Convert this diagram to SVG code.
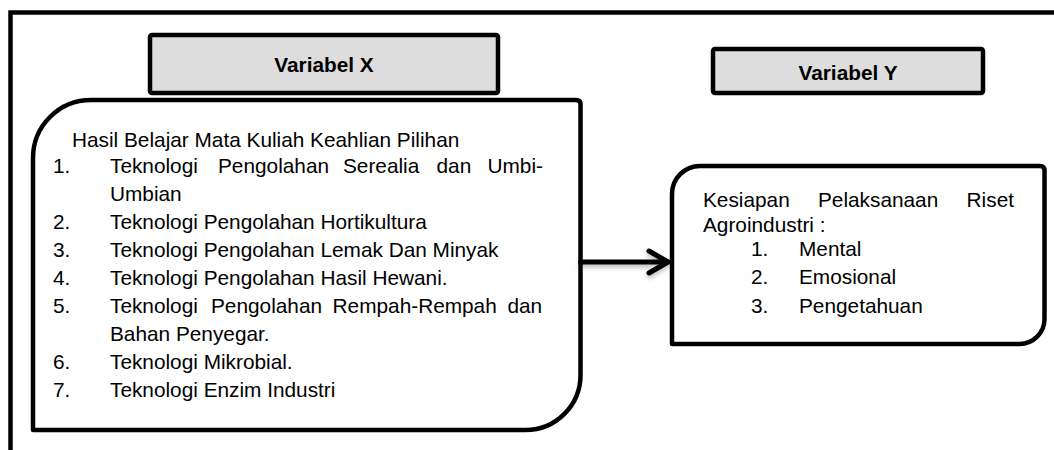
<svg xmlns="http://www.w3.org/2000/svg" width="1054" height="450" viewBox="0 0 1054 450">
  <style>
    .t { font-family: "Liberation Sans", Arial, sans-serif; font-size: 20.8px; fill: #000; }
    .b { font-weight: bold; text-anchor: middle; }
    .hdr { fill: #dddddd; stroke: #000; stroke-width: 4.5; }
    .box { fill: #fff; stroke: #000; stroke-width: 4.5; stroke-linejoin: round; }
    .conn { fill: none; stroke: #000; stroke-width: 5; stroke-linecap: round; stroke-linejoin: round; }
  </style>
  <defs>
    <filter id="shadow" filterUnits="userSpaceOnUse" x="560" y="230" width="130" height="60">
      <feDropShadow dx="0" dy="3" stdDeviation="2" flood-color="#000" flood-opacity="0.25"/>
    </filter>
    <marker id="arrow" markerUnits="userSpaceOnUse" markerWidth="30" markerHeight="30" viewBox="-24 -15 30 30" refX="0" refY="0" orient="auto">
      <path d="M -19,-11 L 0,0 L -19,11" fill="none" stroke="#000" stroke-width="5" stroke-linecap="round" stroke-linejoin="round"/>
    </marker>
  </defs>
  <rect width="1054" height="450" fill="#fff"/>
  <g id="frame">
    <rect x="10.5" y="12.5" width="1100" height="500" fill="none" stroke="#000" stroke-width="4.5"/>
  </g>
  <g id="variabel-x">
    <rect class="hdr" x="150" y="35" width="348" height="58" rx="2"/>
    <text class="t b" x="324" y="72">Variabel X</text>
  </g>
  <g id="variabel-y">
    <rect class="hdr" x="713" y="49" width="270" height="44" rx="2"/>
    <text class="t b" x="848" y="80">Variabel Y</text>
  </g>
  <g id="node-x">
    <path class="box" d="M 33,430 L 33,158 A 58 58 0 0 1 91,100 L 576,100 Q 580.5,100 580.5,104 L 580.5,375 A 55 55 0 0 1 525.5,430 Z"/>
    <text class="t" x="72" y="147">Hasil Belajar Mata Kuliah Keahlian Pilihan</text>
    <text class="t" x="53" y="173">1.</text>
    <text class="t" y="173"><tspan x="110">Teknologi</tspan><tspan x="218">Pengolahan</tspan><tspan x="343">Serealia</tspan><tspan x="436.5">dan</tspan><tspan x="487.5">Umbi-</tspan></text>
    <text class="t" x="110" y="201">Umbian</text>
    <text class="t" x="53" y="229">2.</text>
    <text class="t" x="110" y="229">Teknologi Pengolahan Hortikultura</text>
    <text class="t" x="53" y="257">3.</text>
    <text class="t" x="110" y="257">Teknologi Pengolahan Lemak Dan Minyak</text>
    <text class="t" x="53" y="285">4.</text>
    <text class="t" x="110" y="285">Teknologi Pengolahan Hasil Hewani.</text>
    <text class="t" x="53" y="313">5.</text>
    <text class="t" y="313"><tspan x="110">Teknologi</tspan><tspan x="211">Pengolahan</tspan><tspan x="332.6">Rempah-Rempah</tspan><tspan x="507.4">dan</tspan></text>
    <text class="t" x="110" y="341">Bahan Penyegar.</text>
    <text class="t" x="53" y="369">6.</text>
    <text class="t" x="110" y="369">Teknologi Mikrobial.</text>
    <text class="t" x="53" y="397">7.</text>
    <text class="t" x="110" y="397">Teknologi Enzim Industri</text>
  </g>
  <g id="node-y">
    <path class="box" d="M 672,344 L 672,194 A 28 28 0 0 1 700,166 L 1040,166 Q 1044.5,166 1044.5,170.5 L 1044.5,319 A 25 25 0 0 1 1019.5,344 Z"/>
    <text class="t" y="207"><tspan x="703">Kesiapan</tspan><tspan x="818">Pelaksanaan</tspan><tspan x="966.6">Riset</tspan></text>
    <text class="t" x="703" y="232">Agroindustri :</text>
    <text class="t" x="751" y="256">1.</text>
    <text class="t" x="799" y="256">Mental</text>
    <text class="t" x="751" y="284">2.</text>
    <text class="t" x="799" y="284">Emosional</text>
    <text class="t" x="751" y="313">3.</text>
    <text class="t" x="799" y="313">Pengetahuan</text>
  </g>
  <g id="connectors" filter="url(#shadow)">
    <line class="conn" x1="580.5" y1="262" x2="668" y2="262" marker-end="url(#arrow)"/>
  </g>
</svg>
